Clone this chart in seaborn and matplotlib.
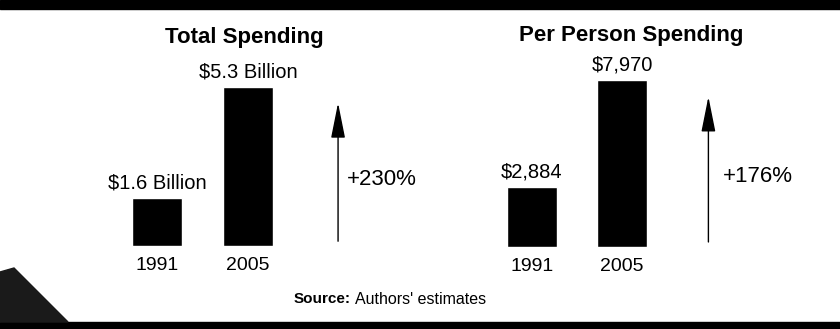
import seaborn as sns
import matplotlib.pyplot as plt
from matplotlib.patches import Rectangle, Polygon

sns.set_theme(style="white")
plt.rcParams["font.family"] = ["Liberation Sans", "DejaVu Sans"]
plt.rcParams["text.color"] = "black"
plt.rcParams["xtick.color"] = "black"

# data
years = ["1991", "2005"]
total_spending = [1.6, 5.3]          # billions of dollars
total_labels = ["$1.6 Billion", "$5.3 Billion"]
total_change = "+230%"
per_person = [2884, 7970]            # dollars per person
per_person_labels = ["$2,884", "$7,970"]
per_person_change = "+176%"

W, H = 840, 329
fig = plt.figure(figsize=(W / 100, H / 100), dpi=100)
fig.patch.set_facecolor("white")

# black frame bands of the clipping
fig.add_artist(Rectangle((0, 1 - 9 / H), 1, 9 / H, transform=fig.transFigure,
                         color="black", zorder=0))
fig.add_artist(Rectangle((0, 0), 1, 7 / H, transform=fig.transFigure,
                         color="black", zorder=0))
fig.add_artist(Polygon([(0, 1 - 272 / H), (14 / W, 1 - 268 / H),
                        (68 / W, 7 / H), (0, 7 / H)],
                       transform=fig.transFigure, color="#1a1a1a", zorder=0))


def panel(rect, values, labels, change, ymax, arrow_x, text_x):
    ax = fig.add_axes(rect)
    sns.barplot(x=years, y=values, ax=ax, color="black", width=0.55,
                saturation=1)
    ax.set_xlim(-0.9, 3.0)
    ax.set_ylim(0, ymax)
    for i, (v, lab) in enumerate(zip(values, labels)):
        ax.annotate(lab, xy=(i, v), xytext=(0, 15), textcoords="offset pixels",
                    ha="center", va="center", fontsize=14.5, color="black")
    top = max(values)
    ax.annotate("", xy=(arrow_x, 0.9 * top), xytext=(arrow_x, 0.03 * top),
                arrowprops=dict(arrowstyle="-|>,head_length=1.1,head_width=0.22",
                                color="black", lw=1.0, mutation_scale=20,
                                shrinkA=0, shrinkB=0))
    ax.text(text_x, 0.42 * top, change, ha="left", va="center", fontsize=16,
            color="black")
    ax.set_facecolor("none")
    sns.despine(ax=ax, left=True, bottom=True)
    ax.set_yticks([])
    ax.set_xlabel("")
    ax.set_ylabel("")
    ax.tick_params(axis="x", length=0, pad=8, labelsize=14, colors="black")
    return ax


panel([75 / W, 83 / H, 355 / W, 180 / H], total_spending, total_labels,
      total_change, 6, 1.99, 2.09)
panel([451 / W, 82 / H, 351 / W, 188.6 / H], per_person, per_person_labels,
      per_person_change, 9000, 1.96, 2.12)

fig.text(244 / W, 1 - 37 / H, "Total Spending", ha="center", va="center",
         fontsize=16, fontweight="bold", color="black")
fig.text(631 / W, 1 - 35 / H, "Per Person Spending", ha="center", va="center",
         fontsize=16, fontweight="bold", color="black")

fig.text(351 / W, 1 - 299 / H, "Source:", ha="right", va="center",
         fontsize=11, fontweight="bold", color="black")
fig.text(355 / W, 1 - 299 / H, "Authors' estimates", ha="left", va="center",
         fontsize=11.5, color="black")

plt.savefig("out.png", dpi=100)
